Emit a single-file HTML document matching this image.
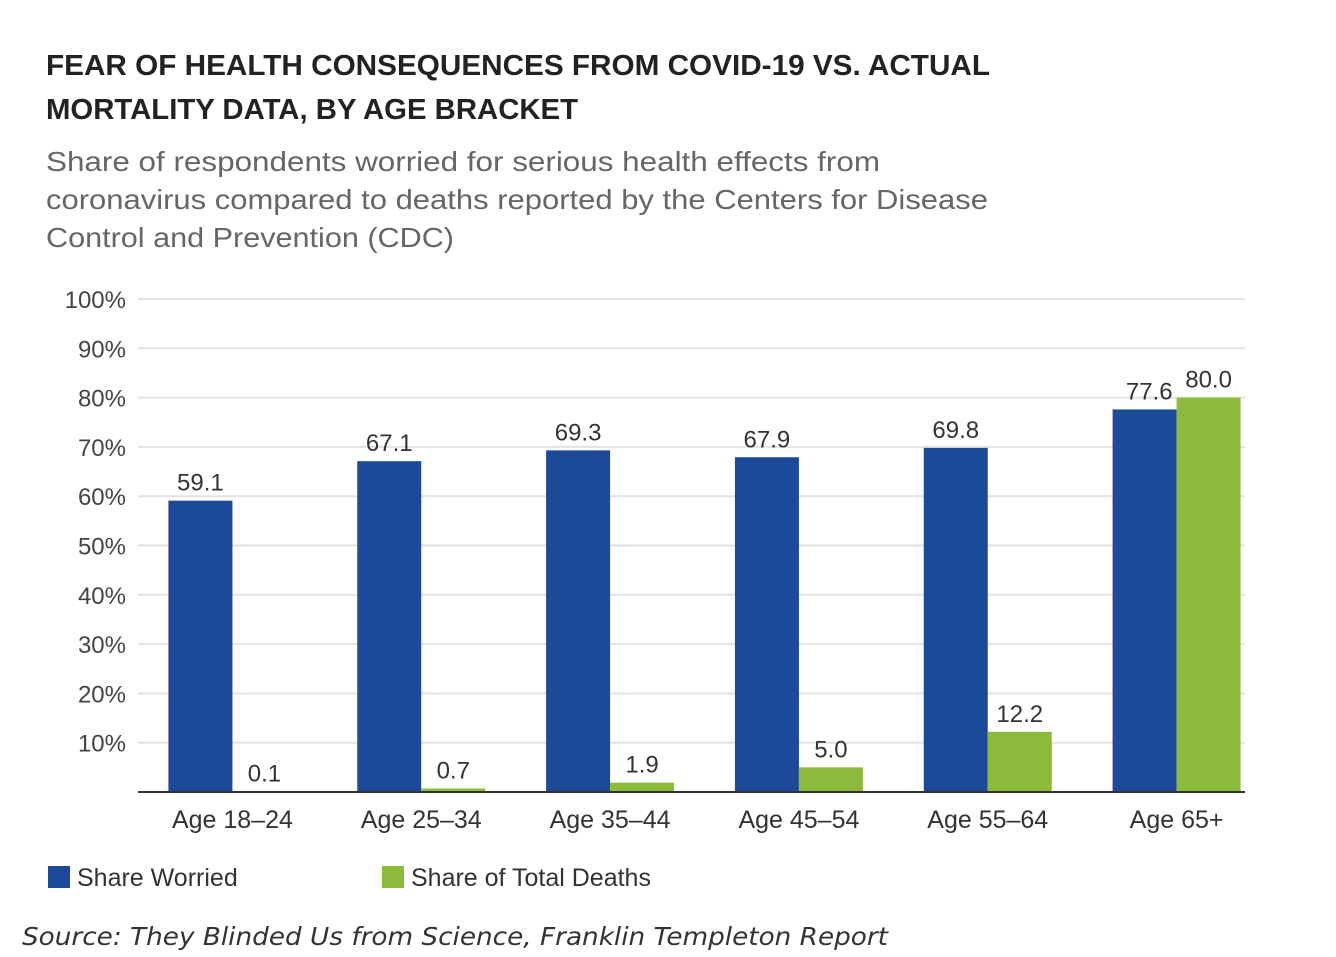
<!DOCTYPE html>
<html><head><meta charset="utf-8"><style>
body{margin:0;background:#fff;width:1336px;height:952px;overflow:hidden;font-family:"Liberation Sans",sans-serif}
</style></head><body>
<svg width="1336" height="952">
<text x="46" y="75" font-size="29" font-weight="bold" fill="#222" textLength="944" lengthAdjust="spacingAndGlyphs">FEAR OF HEALTH CONSEQUENCES FROM COVID-19 VS. ACTUAL</text>
<text x="46" y="119" font-size="29" font-weight="bold" fill="#222" textLength="532" lengthAdjust="spacingAndGlyphs">MORTALITY DATA, BY AGE BRACKET</text>
<g fill="#666" font-size="28">
<text x="46" y="171" textLength="834" lengthAdjust="spacingAndGlyphs">Share of respondents worried for serious health effects from</text>
<text x="46" y="209" textLength="942" lengthAdjust="spacingAndGlyphs">coronavirus compared to deaths reported by the Centers for Disease</text>
<text x="46" y="247" textLength="408" lengthAdjust="spacingAndGlyphs">Control and Prevention (CDC)</text>
</g>
<g id="plot"></g>
<rect x="48" y="866" width="22" height="22" fill="#1c4a99"/>
<text x="77" y="886" font-size="25" fill="#333">Share Worried</text>
<rect x="382" y="866" width="22" height="22" fill="#8cbb3b"/>
<text x="411" y="886" font-size="25" fill="#333">Share of Total Deaths</text>
<text x="22" y="945" font-size="25" font-style="italic" fill="#333" font-family="DejaVu Sans, sans-serif" textLength="866" lengthAdjust="spacingAndGlyphs">Source: They Blinded Us from Science, Franklin Templeton Report</text>
</svg>
<script>
const categories=["Age 18–24","Age 25–34","Age 35–44","Age 45–54","Age 55–64","Age 65+"];
const worried=[59.1,67.1,69.3,67.9,69.8,77.6];
const deaths=[0.1,0.7,1.9,5.0,12.2,80.0];
const yTicks=[10,20,30,40,50,60,70,80,90,100];
const NS="http://www.w3.org/2000/svg";
const g=document.getElementById('plot');
const x0=138,x1=1245,y0=792,y100=299;
const bandStart=138,bandEnd=1271;
const y=v=>y0+(y100-y0)*v/100;
const band=(bandEnd-bandStart)/categories.length;
const cx=i=>bandStart+band*(i+0.5);
function mk(t,a){const e=document.createElementNS(NS,t);for(const k in a)e.setAttribute(k,a[k]);g.appendChild(e);return e;}
yTicks.forEach(t=>{
 const l=mk('line',{x1:x0,x2:x1,y1:y(t),y2:y(t),stroke:'#e2e2e2','stroke-width':2});
 
 
 const tx=mk('text',{x:126,y:y(t)+9,'font-size':24,fill:'#444','text-anchor':'end'});
 tx.textContent=t+'%';
 
 
});
const bw=64;
categories.forEach((c,i)=>{
 const b=mk('rect',{x:cx(i)-bw,y:y(worried[i]),width:bw,height:y0-y(worried[i]),fill:'#1c4a99'});
 
 
 const d=mk('rect',{x:cx(i),y:y(deaths[i]),width:bw,height:Math.max(y0-y(deaths[i]),1),fill:'#8cbb3b'});
 
 
 const last=i===categories.length-1;
 const t1=mk('text',{x:last?cx(i)-4:cx(i)-bw/2,y:y(worried[i])-10,'font-size':24,fill:'#333','text-anchor':last?'end':'middle'});
 t1.textContent=worried[i].toFixed(1);
 
 
 const t2=mk('text',{x:cx(i)+bw/2,y:y(deaths[i])-10,'font-size':24,fill:'#333','text-anchor':'middle'});
 t2.textContent=deaths[i].toFixed(1);
 
 
 const xl=mk('text',{x:cx(i),y:828,'font-size':25,fill:'#333','text-anchor':'middle'});
 xl.textContent=c;
 
 
});
const ax=mk('line',{x1:x0,x2:x1,y1:y0,y2:y0,stroke:'#333','stroke-width':2});


</script>
</body></html>
